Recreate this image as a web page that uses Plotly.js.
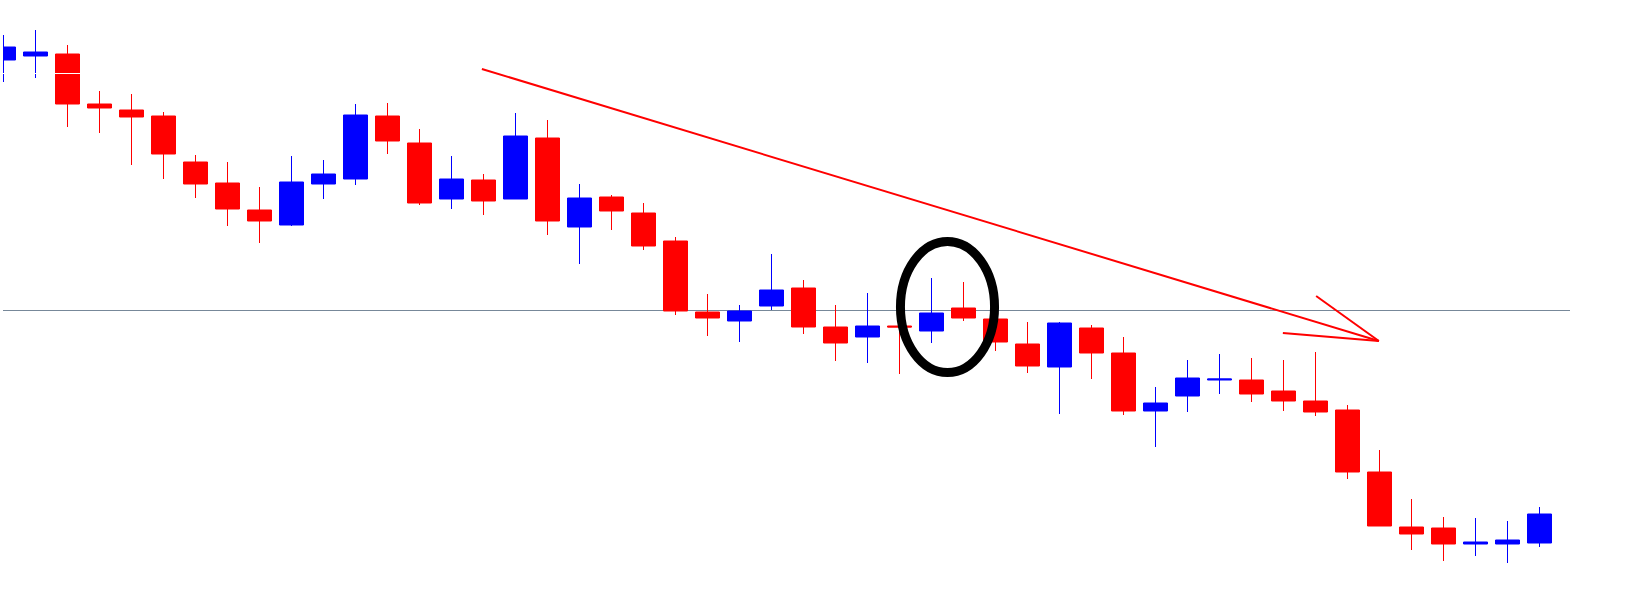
<!DOCTYPE html>
<html>
<head>
<meta charset="utf-8">
<script src="https://cdn.plot.ly/plotly-3.0.1.min.js"></script>
<style>html,body{margin:0;padding:0;background:#fff;}#chart{width:1633px;height:600px;}</style>
</head>
<body>
<div id="chart"></div>
<script>
// Bar index (session number)
const bars = [0,1,2,3,4,5,6,7,8,9,10,11,12,13,14,15,16,17,18,19,20,21,22,23,24,25,26,27,28,29,30,31,32,33,34,35,36,37,38,39,40,41,42,43,44,45,46,47,48];
const openVals  = [540,544,546,496,490,484,438,417,390,375,416,421,484,457,401,420,401,462,373,403,387,359,288,279,294,312,273,263,274,269,292,281,256,233,272,247,189,204,220,220,209,199,190,128,73,72,56,56,57];
const highVals  = [565,570,555,509,506,488,445,438,413,444,440,496,497,471,444,426,487,480,416,405,397,363,306,295,346,320,295,307,274.5,322,318,283,278,278,275,263,213,240,246,242,240,248,195,150,101,83,82,79,93];
const lowVals   = [518,522,473,467,435,421,402,374,357,374,401,415,446,395,391,385,401,365,336,370,350,285,264,258,290,266,239,237,226,257,279,249,227,186,221,185,153,188,206,198,189,184,121,74,50,39,44,37,53];
const closeVals = [553,548,496,492,483,446,416,391,379,418,426,485,459,397,421,399,464,379,402,389,354,289,282,289,310,273,257,274,273,287,282,258,234,277,247,189,197,222,221,206,199,188,128,74,66,56,58,60,86];

// Annotation levels (price units)
const supportLevel = 289.5;
const trendStart = [14.95, 531];
const trendEnd = [42.98, 259];
const arrowWingA = [41.02, 304];
const arrowWingB = [39.98, 267];
const ellipseBox = {x0: 28.03, x1: 30.97, y0: 227.5, y1: 358.5};
const gapLine = 526.5;

const trace = {
  type: 'candlestick',
  x: bars, open: openVals, high: highVals, low: lowVals, close: closeVals,
  increasing: {line: {color: '#0000ff', width: 1}, fillcolor: '#0000ff'},
  decreasing: {line: {color: '#ff0000', width: 1}, fillcolor: '#ff0000'},
  whiskerwidth: 0,
  hoverinfo: 'skip',
  showlegend: false
};

const red = '#ff0000';
const layout = {
  width: 1633, height: 600,
  margin: {l: 3, r: 63, t: 0, b: 0, pad: 0},
  paper_bgcolor: '#ffffff', plot_bgcolor: '#ffffff',
  boxgap: 0.25,
  boxgroupgap: 0,
  showlegend: false,
  xaxis: {range: [-0.0156, 48.953], visible: false, rangeslider: {visible: false}, fixedrange: true},
  yaxis: {range: [0, 600], visible: false, fixedrange: true},
  shapes: [
    {type: 'line', xref: 'paper', yref: 'y', x0: 0, x1: 1, y0: supportLevel, y1: supportLevel,
     line: {color: '#778899', width: 1}, layer: 'below'},
    {type: 'line', xref: 'paper', yref: 'y', x0: 0, x1: 1, y0: gapLine, y1: gapLine,
     line: {color: '#ffffff', width: 1}, layer: 'above'},
    {type: 'line', xref: 'x', yref: 'y', x0: trendStart[0], y0: trendStart[1], x1: trendEnd[0], y1: trendEnd[1],
     line: {color: red, width: 2}},
    {type: 'line', xref: 'x', yref: 'y', x0: arrowWingA[0], y0: arrowWingA[1], x1: trendEnd[0], y1: trendEnd[1],
     line: {color: red, width: 2}},
    {type: 'line', xref: 'x', yref: 'y', x0: arrowWingB[0], y0: arrowWingB[1], x1: trendEnd[0], y1: trendEnd[1],
     line: {color: red, width: 2}},
    {type: 'circle', xref: 'x', yref: 'y', x0: ellipseBox.x0, x1: ellipseBox.x1, y0: ellipseBox.y0, y1: ellipseBox.y1,
     line: {color: '#000000', width: 9}, fillcolor: 'rgba(0,0,0,0)'}
  ]
};

Plotly.newPlot('chart', [trace], layout, {displayModeBar: false, staticPlot: true});
</script>
</body>
</html>
